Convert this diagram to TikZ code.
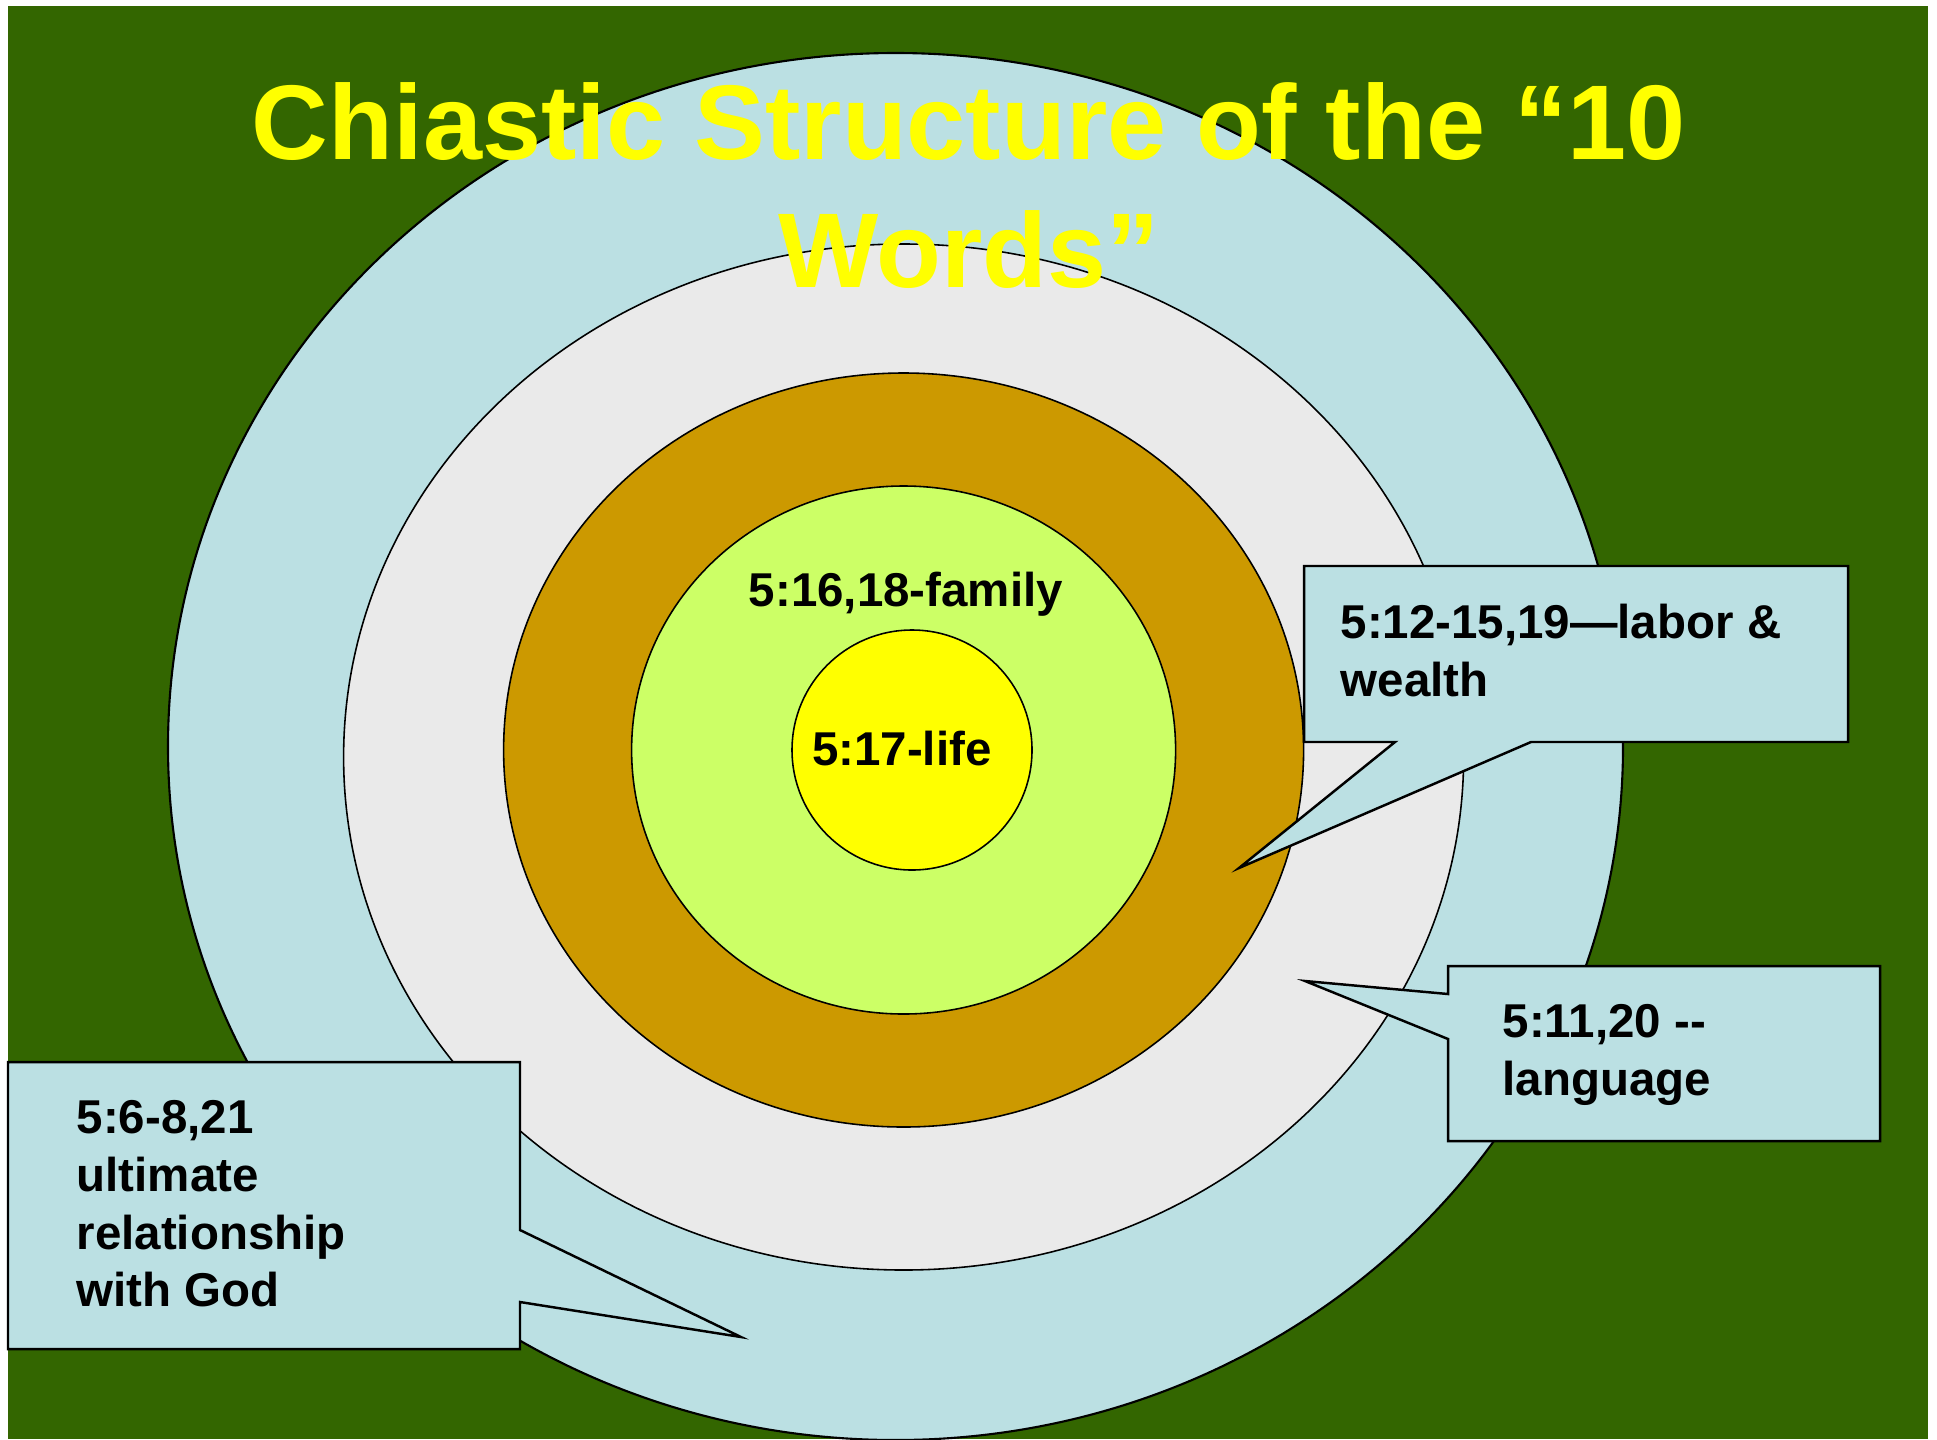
\documentclass[tikz,border=0pt]{standalone}
\usepackage{fontspec}
\setmainfont{Liberation Sans}
\usepackage{tikz}
\definecolor{slidegreen}{HTML}{336600}
\definecolor{godblue}{HTML}{BBE0E3}
\definecolor{speechgray}{HTML}{EAEAEA}
\definecolor{workgold}{HTML}{CC9900}
\definecolor{familygreen}{HTML}{CCFF66}
\definecolor{lifeyellow}{HTML}{FFFF00}
\tikzstyle{ring} = [draw=black, line width=0.45pt]
\tikzstyle{callout} = [draw=black, line width=0.7pt, fill=godblue, line join=miter]
\tikzstyle{verse} = [inner sep=0pt, align=left, font=\fontsize{13.5}{16.4}\selectfont\bfseries]
\tikzstyle{heading} = [inner sep=0pt, align=center, text=lifeyellow, font=\fontsize{30.2}{36.5}\selectfont\bfseries]

\begin{document}
\begin{tikzpicture}[x=0.01cm, y=-0.01cm]

\useasboundingbox (0,0) rectangle (1937,1439);
\fill [slidegreen] (8,6) rectangle (1928,1439);

% rings, outside in
\draw [ring, fill=godblue, line width=0.6pt] (895.5,746.5) ellipse [x radius=727.5, y radius=693.5];
\draw [ring, fill=speechgray] (903.6,757) ellipse [x radius=560, y radius=513];
\draw [ring, fill=workgold] (903.6,750) ellipse [x radius=400, y radius=377];
\draw [ring, fill=familygreen] (903.6,750) ellipse [x radius=272, y radius=264];
\draw [ring, fill=lifeyellow] (912,750) circle [radius=120];

% callouts
\draw [callout] (1304,566) -- (1848,566) -- (1848,742) -- (1531,742) -- (1239,868) -- (1395,742) -- (1304,742) -- cycle;
\draw [callout] (1448,966) -- (1880,966) -- (1880,1141) -- (1448,1141) -- (1448,1039) -- (1305,981) -- (1448,994) -- cycle;
\draw [callout] (8,1062) -- (520,1062) -- (520,1230) -- (741,1337) -- (520,1302) -- (520,1349) -- (8,1349) -- cycle;

% base anchor = baseline of the last line
\node (life) [verse, anchor=base] at (901.7,765.7) {5:17-life};
\node (family) [verse, anchor=base] at (906,606.7) {5:16,18-family};
\node (labor) [verse, anchor=base west] at (1340,696) {5:12-15,19—labor \&\\wealth};
\node (language) [verse, anchor=base west] at (1502,1095.5) {5:11,20 -{}-\\language};
\node (god) [verse, anchor=base west] at (76,1306.7) {5:6-8,21\\ultimate\\relationship\\with God};

\node (title) [heading, anchor=base] at (969,287.7) {Chiastic Structure of the “10\\Words”};

\end{tikzpicture}
\end{document}
